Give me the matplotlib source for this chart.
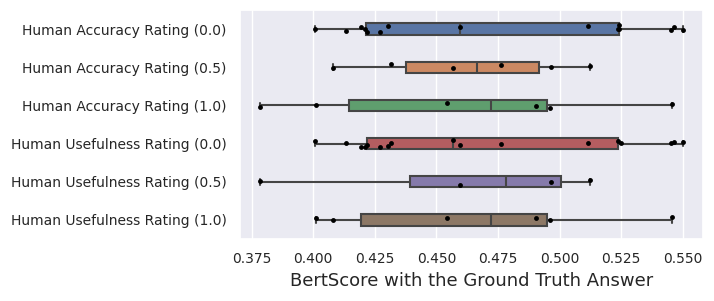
import numpy as np
import pandas as pd
import seaborn as sns
import matplotlib
matplotlib.use("Agg")
import matplotlib.pyplot as plt

# BertScore values per rating group
acc_00 = [0.4006, 0.4133, 0.4193, 0.4211, 0.4219, 0.4271, 0.4303, 0.4595,
          0.5114, 0.5236, 0.5240, 0.5242, 0.5452, 0.5465, 0.5500]
acc_05 = [0.4079, 0.4316, 0.4566, 0.4763, 0.4965, 0.5122]
acc_10 = [0.3784, 0.4011, 0.4542, 0.4904, 0.4962, 0.5455]
use_00 = [0.4007, 0.4133, 0.4193, 0.4211, 0.4219, 0.4271, 0.4303, 0.4316,
          0.4566, 0.4595, 0.4763, 0.5114, 0.5236, 0.5249, 0.5452, 0.5465, 0.5500]
use_05 = [0.3784, 0.4595, 0.4966, 0.5122]
use_10 = [0.4011, 0.4079, 0.4542, 0.4904, 0.4962, 0.5455]

labels = ["Human Accuracy Rating (0.0)", "Human Accuracy Rating (0.5)",
          "Human Accuracy Rating (1.0)", "Human Usefulness Rating (0.0)",
          "Human Usefulness Rating (0.5)", "Human Usefulness Rating (1.0)"]
groups = [acc_00, acc_05, acc_10, use_00, use_05, use_10]

rows = []
for lab, vals in zip(labels, groups):
    for v in vals:
        rows.append({"group": lab, "score": v})
df = pd.DataFrame(rows)

sns.set_theme(style="darkgrid")
np.random.seed(3)

fig = plt.figure(figsize=(7.14, 3.01), dpi=100)
ax = fig.add_axes([240 / 714, 1 - 239 / 301, 463 / 714, 229 / 301])

sns.boxplot(data=df, x="score", y="group", hue="group", order=labels,
            palette="deep", width=0.3, whis=np.inf, legend=False,
            linewidth=1.5, linecolor="0.27", ax=ax)
sns.stripplot(data=df, x="score", y="group", order=labels, color="black",
              size=3.5, jitter=0.1, ax=ax)

ax.set_xlim(0.3703, 0.5582)
ax.set_xticks([0.375, 0.4, 0.425, 0.45, 0.475, 0.5, 0.525, 0.55])
ax.tick_params(axis="both", labelsize=10)
ax.set_ylabel("")
ax.set_xlabel("BertScore with the Ground Truth Answer", fontsize=13)

fig.savefig("out.png", dpi=100)
